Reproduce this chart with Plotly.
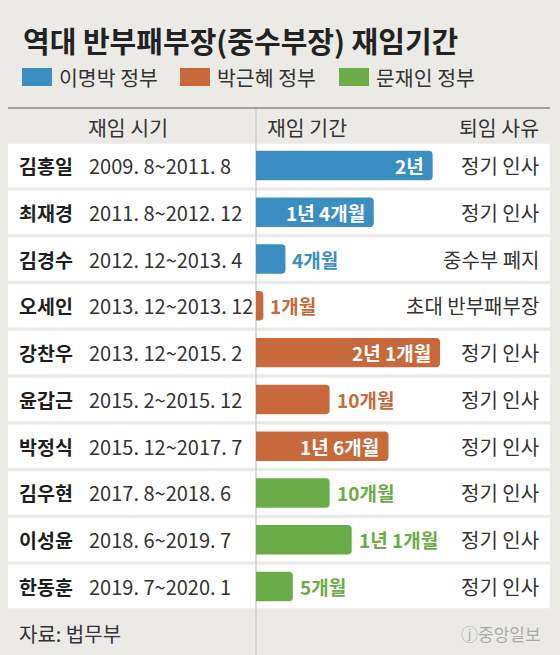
import plotly.graph_objects as go

# data
names = ['김홍일', '최재경', '김경수', '오세인', '강찬우', '윤갑근', '박정식', '김우현', '이성윤', '한동훈']
terms = ['2009. 8~2011. 8', '2011. 8~2012. 12', '2012. 12~2013. 4', '2013. 12~2013. 12',
         '2013. 12~2015. 2', '2015. 2~2015. 12', '2015. 12~2017. 7', '2017. 8~2018. 6',
         '2018. 6~2019. 7', '2019. 7~2020. 1']
months = [24, 16, 4, 1, 25, 10, 18, 10, 13, 5]
month_labels = ['2년', '1년 4개월', '4개월', '1개월', '2년 1개월', '10개월',
                '1년 6개월', '10개월', '1년 1개월', '5개월']
reasons = ['정기 인사', '정기 인사', '중수부 폐지', '초대 반부패부장', '정기 인사',
           '정기 인사', '정기 인사', '정기 인사', '정기 인사', '정기 인사']
govs = ['이명박 정부', '이명박 정부', '이명박 정부', '박근혜 정부', '박근혜 정부',
        '박근혜 정부', '박근혜 정부', '문재인 정부', '문재인 정부', '문재인 정부']
legend_names = ['이명박 정부', '박근혜 정부', '문재인 정부']
legend_colors = ['#3b8ec2', '#c8693c', '#6aac48']

title = '역대 반부패부장(중수부장) 재임기간'
headers = ['재임 시기', '재임 기간', '퇴임 사유']
source = '자료: 법무부'
logo = 'ⓙ중앙일보'

W, H = 560, 655
FONT = 'Noto Sans CJK KR'
BG = '#ebeae6'
gov_color = dict(zip(legend_names, legend_colors))
bar_colors = [gov_color[g] for g in govs]

# pixel layout helpers
def px(x):
    return x / W

def py(y):
    return 1 - y / H

BAR_X0 = 256      # pixel where month 0 sits
PX_PER_MONTH = 7.36
ROW0 = 165.5      # pixel centre of first row
PITCH = 46.78

rows = list(range(len(names)))

fig = go.Figure()
fig.add_trace(go.Bar(
    y=rows, x=months, orientation='h', width=0.63,
    marker=dict(color=bar_colors, line=dict(width=0)),
    hoverinfo='skip', showlegend=False,
))

shapes = []
# white row backgrounds
for i in rows:
    shapes.append(dict(type='rect', layer='below', xref='paper', yref='y',
                       x0=px(8), x1=px(550), y0=i - 0.465, y1=i + 0.465,
                       fillcolor='white', line=dict(width=0)))
# vertical separator
shapes.append(dict(type='line', layer='below', xref='x', yref='paper',
                   x0=0, x1=0, y0=0, y1=py(108),
                   line=dict(color='#cfcfcc', width=1.5)))
# header rule
shapes.append(dict(type='line', xref='paper', yref='paper',
                   x0=px(8), x1=px(550), y0=py(108), y1=py(108),
                   line=dict(color='#5a5a5a', width=1.2)))

annotations = []
annotations.append(dict(text=title, xref='paper', yref='paper', x=px(21), y=py(40),
                        xanchor='left', yanchor='middle', showarrow=False,
                        font=dict(family=FONT, size=29, color='#222', weight='bold')))

# legend
leg_x = [22, 180, 339]
for lx, name, col in zip(leg_x, legend_names, legend_colors):
    shapes.append(dict(type='rect', xref='paper', yref='paper',
                       x0=px(lx), x1=px(lx + 30), y0=py(68), y1=py(86),
                       fillcolor=col, line=dict(width=0)))
    annotations.append(dict(text=name, xref='paper', yref='paper', x=px(lx + 35), y=py(77),
                            xanchor='left', yanchor='middle', showarrow=False,
                            font=dict(family=FONT, size=20.5, color='#333')))

# column headers
hfont = dict(family=FONT, size=20.5, color='#333')
annotations.append(dict(text=headers[0], xref='paper', yref='paper', x=px(128), y=py(127),
                        xanchor='center', yanchor='middle', showarrow=False, font=hfont))
annotations.append(dict(text=headers[1], xref='paper', yref='paper', x=px(265), y=py(127),
                        xanchor='left', yanchor='middle', showarrow=False, font=hfont))
annotations.append(dict(text=headers[2], xref='paper', yref='paper', x=px(541), y=py(127),
                        xanchor='right', yanchor='middle', showarrow=False, font=hfont))

# rows
for i in rows:
    annotations.append(dict(text=names[i], xref='paper', yref='y', x=px(17), y=i,
                            xanchor='left', yanchor='middle', showarrow=False,
                            font=dict(family=FONT, size=19.5, color='#1e1e1e', weight='bold')))
    annotations.append(dict(text=terms[i], xref='paper', yref='y', x=px(87), y=i,
                            xanchor='left', yanchor='middle', showarrow=False,
                            font=dict(family=FONT, size=20, color='#333')))
    annotations.append(dict(text=reasons[i], xref='paper', yref='y', x=px(541), y=i,
                            xanchor='right', yanchor='middle', showarrow=False,
                            font=dict(family=FONT, size=20, color='#333')))
    inside = months[i] >= 16
    annotations.append(dict(text=month_labels[i], xref='x', yref='y', x=months[i], y=i,
                            xanchor='right' if inside else 'left',
                            xshift=-7 if inside else 5,
                            yanchor='middle', showarrow=False,
                            font=dict(family=FONT, size=19, weight='bold',
                                      color='white' if inside else bar_colors[i])))

# footer
annotations.append(dict(text=source, xref='paper', yref='paper', x=px(17), y=py(633),
                        xanchor='left', yanchor='middle', showarrow=False,
                        font=dict(family=FONT, size=20, color='#333')))
annotations.append(dict(text=logo, xref='paper', yref='paper', x=px(543), y=py(633),
                        xanchor='right', yanchor='middle', showarrow=False,
                        font=dict(family=FONT, size=17, color='#aaaaaa')))

fig.update_layout(
    width=W, height=H,
    margin=dict(l=0, r=0, t=0, b=0),
    paper_bgcolor=BG, plot_bgcolor='rgba(0,0,0,0)',
    barcornerradius=4,
    xaxis=dict(range=[-BAR_X0 / PX_PER_MONTH, (W - BAR_X0) / PX_PER_MONTH],
               domain=[0, 1], visible=False, fixedrange=True),
    yaxis=dict(range=[(H - ROW0) / PITCH, -ROW0 / PITCH],
               domain=[0, 1], visible=False, fixedrange=True),
    shapes=shapes,
    annotations=annotations,
    showlegend=False,
)

# drop the default page margin so the figure sits at the window's corner
fig.write_html("out.html", config={'displayModeBar': False},
               post_script="document.body.style.margin='0';"
                           "document.body.style.background='" + BG + "';")
